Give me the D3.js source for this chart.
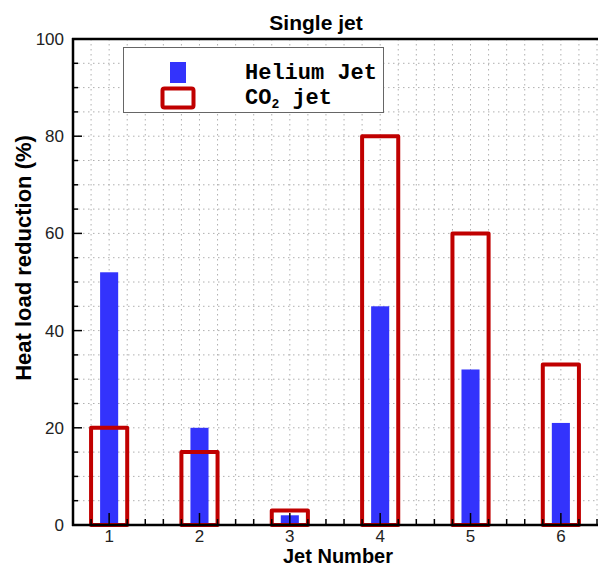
<!DOCTYPE html>
<html>
<head>
<meta charset="utf-8">
<script src="https://cdn.jsdelivr.net/npm/d3@7"></script>
<style>
  body { margin: 0; background: #fff; }
  text { font-family: Arial, "Liberation Sans", sans-serif; }
</style>
</head>
<body>
<svg id="chart" width="598" height="568"></svg>
<script>
// chart data
var jets = [1, 2, 3, 4, 5, 6];
var heliumValues = [52, 20, 2, 45, 32, 21];
var co2Values = [20, 15, 3, 80, 60, 33];
var yTicks = [0, 20, 40, 60, 80, 100];

var plotLeft = 73, plotRight = 597, plotTop = 39, plotBottom = 525;
var svg = d3.select("#chart");

var x = d3.scaleLinear().domain([0.6, 6.4]).range([plotLeft, plotRight]);
var y = d3.scaleLinear().domain([0, 100]).range([plotBottom, plotTop]);

// dotted grid
var grid = svg.append("g").attr("stroke", "#b0b0b0").attr("stroke-width", 1)
    .attr("stroke-dasharray", "1.5,3.5");
d3.range(0, 101, 5).forEach(function (v) {
    grid.append("line").attr("x1", plotLeft).attr("x2", plotRight)
        .attr("y1", y(v)).attr("y2", y(v));
});
d3.range(8, 65, 2).forEach(function (k) {
    var xv = k / 10;
    grid.append("line").attr("x1", x(xv)).attr("x2", x(xv))
        .attr("y1", plotTop).attr("y2", plotBottom);
});

var blueW = 0.2, redW = 0.4;

// helium bars
svg.append("g").selectAll("rect")
    .data(jets)
    .enter().append("rect")
    .attr("x", function (d) { return x(d - blueW / 2); })
    .attr("width", function () { return x(0.6 + blueW) - x(0.6); })
    .attr("y", function (d, i) { return y(heliumValues[i]); })
    .attr("height", function (d, i) { return y(0) - y(heliumValues[i]); })
    .attr("fill", "#3333fc");

// co2 bars (outline)
svg.append("g").selectAll("rect")
    .data(jets)
    .enter().append("rect")
    .attr("x", function (d) { return x(d - redW / 2); })
    .attr("width", function () { return x(0.6 + redW) - x(0.6); })
    .attr("y", function (d, i) { return y(co2Values[i]); })
    .attr("height", function (d, i) { return y(0) - y(co2Values[i]); })
    .attr("fill", "none")
    .attr("stroke", "#c00000")
    .attr("stroke-width", 4)
    .attr("stroke-linejoin", "round");

// axes
var axisG = svg.append("g").attr("stroke", "#000");
d3.range(0, 101, 5).forEach(function (v) {
    var major = v % 20 === 0;
    axisG.append("line").attr("x1", plotLeft).attr("x2", plotLeft + (major ? 9 : 5))
        .attr("y1", y(v)).attr("y2", y(v)).attr("stroke-width", 1.5);
});
d3.range(6, 65, 2).forEach(function (k) {
    var major = k % 10 === 0;
    axisG.append("line").attr("x1", x(k / 10)).attr("x2", x(k / 10))
        .attr("y1", plotBottom).attr("y2", plotBottom - (major ? 12 : 6)).attr("stroke-width", 1.5);
});
axisG.append("line").attr("x1", plotLeft).attr("x2", plotLeft).attr("y1", plotTop - 1).attr("y2", plotBottom + 1).attr("stroke-width", 2.5);
axisG.append("line").attr("x1", plotLeft - 1).attr("x2", 598).attr("y1", plotBottom).attr("y2", plotBottom).attr("stroke-width", 2.5);
axisG.append("line").attr("x1", plotLeft - 1).attr("x2", 598).attr("y1", plotTop).attr("y2", plotTop).attr("stroke-width", 2.5);

// tick labels
svg.append("g").selectAll("text")
    .data(yTicks)
    .enter().append("text")
    .attr("x", plotLeft - 9).attr("y", function (d) { return y(d) + 6; })
    .attr("text-anchor", "end").attr("font-size", 17).attr("fill", "#222")
    .text(function (d) { return d; });
svg.append("g").selectAll("text")
    .data(jets)
    .enter().append("text")
    .attr("x", function (d) { return x(d); }).attr("y", 542)
    .attr("text-anchor", "middle").attr("font-size", 17).attr("fill", "#222")
    .text(function (d) { return d; });

// titles
svg.append("text").attr("x", 316).attr("y", 30).attr("text-anchor", "middle")
    .attr("font-size", 21).attr("font-weight", "bold").text("Single jet");
svg.append("text").attr("x", 338).attr("y", 563).attr("text-anchor", "middle")
    .attr("font-size", 20).attr("font-weight", "bold").text("Jet Number");
svg.append("text").attr("transform", "translate(31,258) rotate(-90)")
    .attr("text-anchor", "middle").attr("font-size", 22).attr("font-weight", "bold")
    .text("Heat load reduction (%)");

// legend
var lg = svg.append("g");
lg.append("rect").attr("x", 123.5).attr("y", 47.5).attr("width", 260).attr("height", 65)
    .attr("fill", "#fff").attr("stroke", "#666").attr("stroke-width", 1);
lg.append("rect").attr("x", 170).attr("y", 62).attr("width", 16).attr("height", 21).attr("fill", "#3333fc");
lg.append("rect").attr("x", 162.5).attr("y", 88.5).attr("width", 31).attr("height", 19)
    .attr("fill", "none").attr("stroke", "#c00000").attr("stroke-width", 4).attr("rx", 2);
lg.append("text").attr("x", 245).attr("y", 79)
    .style("font-family", "'Liberation Mono', 'Courier New', monospace")
    .attr("font-size", 22).attr("font-weight", "bold").text("Helium Jet");
var co2 = lg.append("text").attr("x", 245).attr("y", 104)
    .style("font-family", "'Liberation Mono', 'Courier New', monospace")
    .attr("font-size", 22).attr("font-weight", "bold");
co2.append("tspan").text("CO");
co2.append("tspan").attr("font-size", 13).attr("dy", 4).text("2");
co2.append("tspan").attr("dy", -4).text(" jet");
</script>
</body>
</html>
